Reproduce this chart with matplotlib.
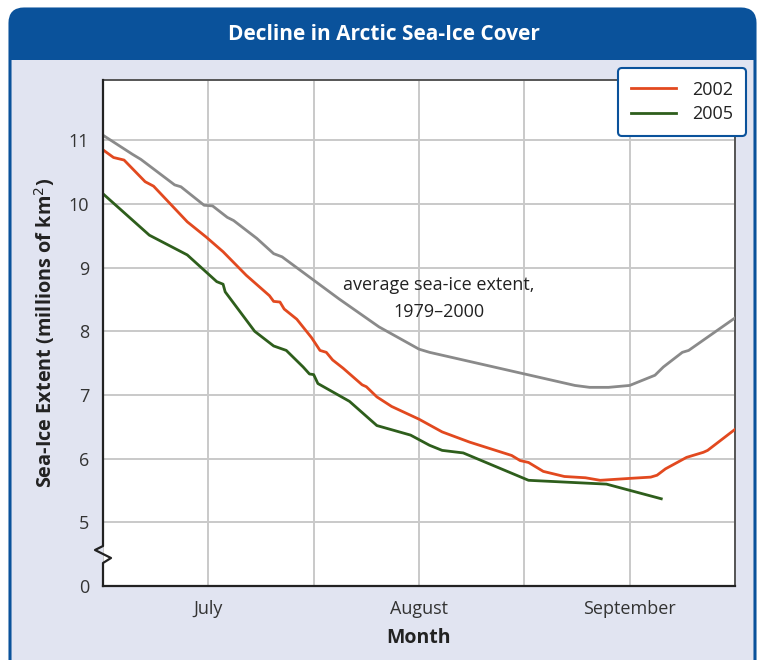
import matplotlib
matplotlib.use("Agg")
import matplotlib.pyplot as plt
from matplotlib.patches import FancyBboxPatch, Rectangle
from matplotlib.lines import Line2D

plt.rcParams['font.family'] = ['Open Sans', 'DejaVu Sans']

# ---- data (x in months: 7 = July 1, 8 = Aug 1, 9 = Sep 1) ----
avg_x = [6.50, 6.64, 6.68, 6.84, 6.87, 6.98, 7.02, 7.09, 7.12, 7.23, 7.31, 7.35,
         7.62, 7.81, 8.00, 8.05, 8.74, 8.81, 8.90, 9.00, 9.12, 9.16, 9.25, 9.28, 9.50]
avg_y = [11.08, 10.78, 10.70, 10.30, 10.27, 9.98, 9.97, 9.79, 9.74, 9.46, 9.22, 9.17,
         8.51, 8.07, 7.72, 7.67, 7.15, 7.12, 7.12, 7.15, 7.31, 7.44, 7.67, 7.70, 8.21]

y2002_x = [6.50, 6.55, 6.60, 6.70, 6.74, 6.90, 6.99, 7.07, 7.18, 7.29, 7.31, 7.34,
           7.36, 7.42, 7.49, 7.53, 7.56, 7.59, 7.64, 7.73, 7.75, 7.80, 7.87, 8.00,
           8.11, 8.24, 8.44, 8.48, 8.52, 8.59, 8.69, 8.79, 8.86, 9.00, 9.10, 9.13,
           9.17, 9.27, 9.35, 9.37, 9.50]
y2002_y = [10.85, 10.73, 10.69, 10.35, 10.28, 9.72, 9.48, 9.25, 8.88, 8.56, 8.47, 8.46,
           8.35, 8.19, 7.90, 7.70, 7.67, 7.55, 7.42, 7.16, 7.13, 6.97, 6.82, 6.62,
           6.42, 6.26, 6.05, 5.97, 5.94, 5.80, 5.72, 5.70, 5.66, 5.69, 5.71, 5.74,
           5.84, 6.02, 6.10, 6.13, 6.46]

y2005_x = [6.50, 6.72, 6.90, 6.99, 7.04, 7.07, 7.08, 7.22, 7.31, 7.37, 7.45, 7.48,
           7.50, 7.52, 7.67, 7.80, 7.96, 8.05, 8.11, 8.21, 8.52, 8.89, 9.15]
y2005_y = [10.16, 9.51, 9.20, 8.93, 8.78, 8.74, 8.62, 8.00, 7.77, 7.70, 7.44, 7.33,
           7.32, 7.18, 6.90, 6.52, 6.37, 6.21, 6.13, 6.09, 5.66, 5.60, 5.37]

ytick_vals = [4, 5, 6, 7, 8, 9, 10, 11]
ytick_labels = ['0', '5', '6', '7', '8', '9', '10', '11']
month_pos = [7, 8, 9]
month_labels = ['July', 'August', 'September']

# ---- figure ----
W, H = 761, 660
fig = plt.figure(figsize=(W / 100, H / 100), dpi=100)
fig.patch.set_facecolor('white')

BLUE = '#0a529b'
LAV = '#e1e4f1'

def px(x, y):
    return x / 100, (H - y) / 100

x0, y0 = px(10, 680)
outer = FancyBboxPatch((x0, y0), (755 - 10) / 100, (680 - 9) / 100,
                       boxstyle="round,pad=0,rounding_size=0.14",
                       transform=fig.dpi_scale_trans, facecolor=LAV,
                       edgecolor='none', zorder=-5)
fig.patches.append(outer)
tx, ty = px(10, 80)
title_box = FancyBboxPatch((tx, ty), (755 - 10) / 100, (80 - 9) / 100,
                           boxstyle="round,pad=0,rounding_size=0.14",
                           transform=fig.dpi_scale_trans, facecolor=BLUE,
                           edgecolor='none', zorder=-4)
fig.patches.append(title_box)
rx, ry = px(11, 82)
fig.patches.append(Rectangle((rx, ry), (754 - 11) / 100, 22 / 100,
                             transform=fig.dpi_scale_trans, facecolor=LAV,
                             edgecolor='none', zorder=-3))
border = FancyBboxPatch((x0, y0), (755 - 10) / 100, (680 - 9) / 100,
                        boxstyle="round,pad=0,rounding_size=0.14",
                        transform=fig.dpi_scale_trans, facecolor='none',
                        edgecolor=BLUE, linewidth=2.2, zorder=-2)
fig.patches.append(border)

fig.text(384 / W, 1 - 34 / H, 'Decline in Arctic Sea-Ice Cover', color='white',
         fontsize=15, fontweight='bold', ha='center', va='center')

# axes
L, R, T, B = 103, 735, 80, 586
ax = fig.add_axes([L / W, 1 - B / H, (R - L) / W, (B - T) / H])
ax.set_zorder(1)
ax.set_facecolor('white')
ax.set_xlim(6.5, 9.5)
ax.set_ylim(4, 4 + (B - T) / 63.67)

ax.xaxis.remove_overlapping_locs = False
ax.set_xticks([6.5, 7, 7.5, 8, 8.5, 9, 9.5], minor=False)
ax.set_xticklabels([])
ax.set_xticks(month_pos, minor=True)
ax.set_xticklabels(month_labels, minor=True)
ax.set_yticks(ytick_vals)
ax.set_yticklabels(ytick_labels)
ax.tick_params(axis='both', which='both', length=0, labelsize=13, colors='#333333', pad=10)
ax.tick_params(axis='x', which='minor', pad=10)
ax.grid(True, which='major', color='#c9c9c9', linewidth=1.4, zorder=0)
for s in ['top', 'right']:
    ax.spines[s].set_color('#555555')
    ax.spines[s].set_linewidth(1.4)
ax.spines['bottom'].set_color('#222222')
ax.spines['bottom'].set_linewidth(1.6)
ax.spines['left'].set_visible(False)

def ay(py):
    return (B - py) / (B - T)

def axx(pxv):
    return (pxv - L) / (R - L)

zx = [0, 0, axx(111), axx(95), 0, 0]
zy = [0, ay(563), ay(558), ay(550), ay(546), 1]
ax.add_line(Line2D(zx, zy, transform=ax.transAxes, color='#222222',
                   linewidth=1.6, clip_on=False, zorder=5))

ax.plot(avg_x, avg_y, color='#8a8a8a', linewidth=2.0, zorder=3, solid_joinstyle='round')
ax.plot(y2002_x, y2002_y, color='#e2491f', linewidth=2.0, zorder=4, label='2002', solid_joinstyle='round')
ax.plot(y2005_x, y2005_y, color='#2e5e1c', linewidth=2.0, zorder=4, label='2005', solid_joinstyle='round')

ax.text(8.095, 8.51, 'average sea-ice extent,\n1979–2000', ha='center', va='center',
        fontsize=13, color='#222222', linespacing=1.65)

ax.set_xlabel('Month', fontsize=14, fontweight='bold', color='#222222', labelpad=7)
ax.set_ylabel('Sea-Ice Extent (millions of km$^2$)', fontsize=14.3, fontweight='bold',
              color='#222222', labelpad=8)

leg = ax.legend(loc='upper right', bbox_to_anchor=((746 - L) / (R - L), (B - 68) / (B - T)),
                borderaxespad=0, frameon=True, fancybox=True, fontsize=13, handlelength=2.5,
                borderpad=0.7, labelspacing=0.35, handletextpad=0.9)
leg.get_frame().set_edgecolor(BLUE)
leg.get_frame().set_linewidth(1.5)
leg.get_frame().set_facecolor('white')
leg.get_frame().set_alpha(1)
leg.set_zorder(10)
for t in leg.get_texts():
    t.set_color('#222222')

fig.savefig('out.png', dpi=100)
